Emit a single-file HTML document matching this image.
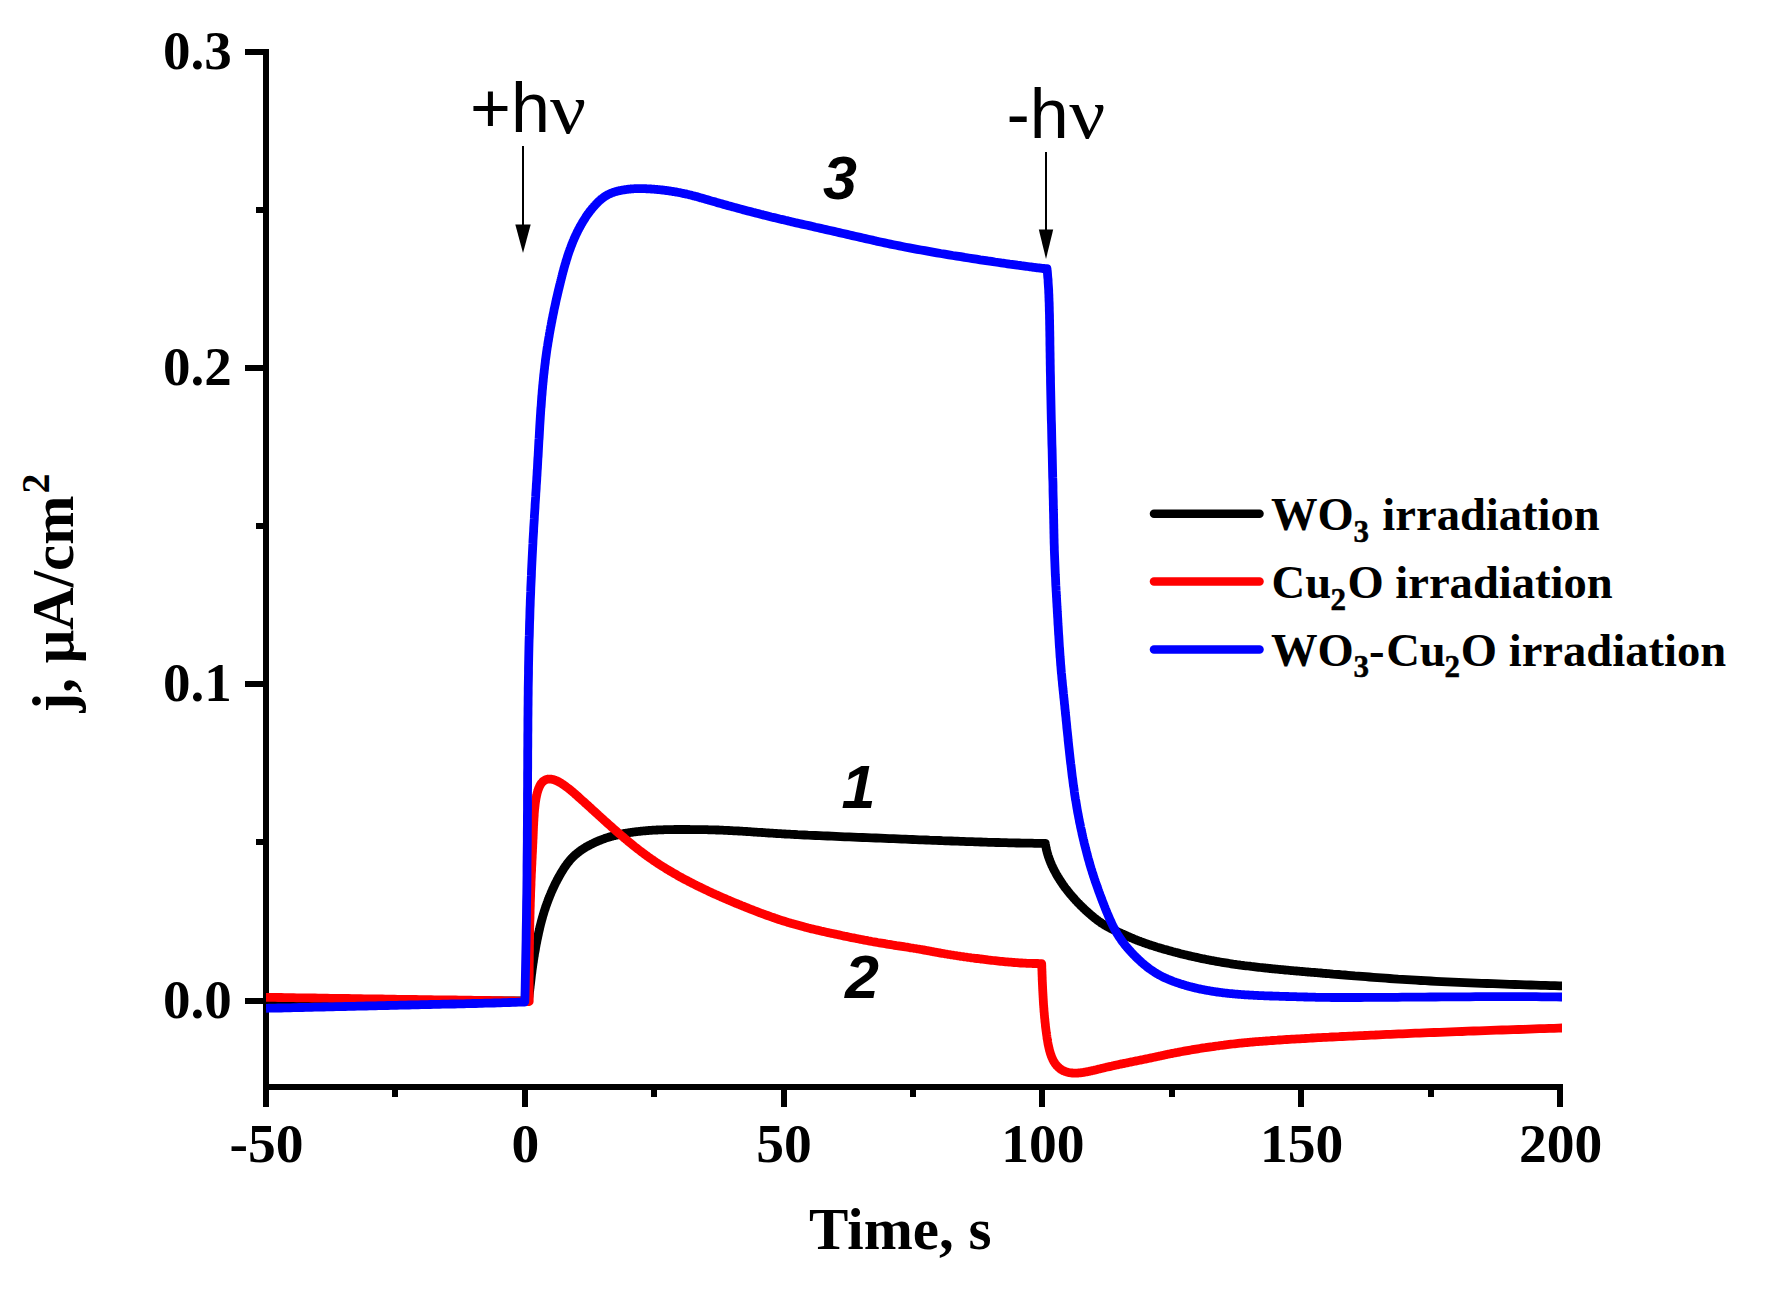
<!DOCTYPE html>
<html lang="en"><head><meta charset="utf-8"><title>Photocurrent transients</title>
<style>html,body{margin:0;padding:0;background:#fff}body{width:1769px;height:1295px;overflow:hidden}svg{display:block}</style>
</head><body>
<svg width="1769" height="1295" viewBox="0 0 1769 1295">
<rect width="1769" height="1295" fill="#fff"/>
<g stroke="#000" stroke-width="6" fill="none" shape-rendering="crispEdges">
<line x1="266" y1="49" x2="266" y2="1107"/>
<line x1="263" y1="1087" x2="1563" y2="1087"/>
<line x1="245" y1="1001.0" x2="266" y2="1001.0"/>
<line x1="245" y1="684.0" x2="266" y2="684.0"/>
<line x1="245" y1="368.0" x2="266" y2="368.0"/>
<line x1="245" y1="52.0" x2="266" y2="52.0"/>
<line x1="256" y1="842.0" x2="266" y2="842.0"/>
<line x1="256" y1="526.0" x2="266" y2="526.0"/>
<line x1="256" y1="210.0" x2="266" y2="210.0"/>
<line x1="525.0" y1="1087" x2="525.0" y2="1107"/>
<line x1="784.0" y1="1087" x2="784.0" y2="1107"/>
<line x1="1042.0" y1="1087" x2="1042.0" y2="1107"/>
<line x1="1301.0" y1="1087" x2="1301.0" y2="1107"/>
<line x1="1560.0" y1="1087" x2="1560.0" y2="1107"/>
<line x1="395.0" y1="1087" x2="395.0" y2="1097"/>
<line x1="654.0" y1="1087" x2="654.0" y2="1097"/>
<line x1="913.0" y1="1087" x2="913.0" y2="1097"/>
<line x1="1172.0" y1="1087" x2="1172.0" y2="1097"/>
<line x1="1431.0" y1="1087" x2="1431.0" y2="1097"/>
</g>
<defs><clipPath id="cp"><rect x="266" y="0" width="1296" height="1084"/></clipPath></defs>
<g clip-path="url(#cp)" fill="none" stroke-width="8.8" stroke-linejoin="round" stroke-linecap="butt">
<path stroke="#000" d="M266.0 1001.5L269.0 1001.5L272.1 1001.5L275.1 1001.5L278.2 1001.5L281.2 1001.4L284.3 1001.4L287.3 1001.4L290.4 1001.4L293.4 1001.4L296.5 1001.4L299.5 1001.4L302.6 1001.4L305.6 1001.4L308.7 1001.3L311.7 1001.3L314.7 1001.3L317.8 1001.3L320.8 1001.3L323.9 1001.3L326.9 1001.3L330.0 1001.3L333.0 1001.3L336.1 1001.3L339.1 1001.3L342.2 1001.2L345.2 1001.2L348.3 1001.2L351.3 1001.2L354.3 1001.2L357.4 1001.2L360.4 1001.2L363.5 1001.2L366.5 1001.2L369.6 1001.2L372.6 1001.2L375.7 1001.2L378.7 1001.2L381.8 1001.2L384.8 1001.1L387.9 1001.1L390.9 1001.1L394.0 1001.1L397.0 1001.1L400.0 1001.1L403.1 1001.1L406.1 1001.1L409.2 1001.1L412.2 1001.1L415.3 1001.1L418.3 1001.1L421.4 1001.1L424.4 1001.1L427.5 1001.1L430.5 1001.1L433.6 1001.1L436.6 1001.1L439.7 1001.1L442.7 1001.1L445.7 1001.0L448.8 1001.0L451.8 1001.0L454.9 1001.0L457.9 1001.0L461.0 1001.0L464.0 1001.0L467.1 1001.0L470.1 1001.0L473.2 1001.0L476.2 1001.0L479.3 1001.0L482.3 1001.0L485.3 1001.0L488.4 1001.0L491.4 1001.0L494.5 1001.0L497.5 1001.0L500.6 1001.0L503.6 1001.0L506.7 1001.0L509.7 1001.0L512.8 1001.0L515.8 1001.0L518.9 1001.0L521.9 1001.0L525.0 1001.0L528.0 1001.0L528.3 1001.0L528.4 1000.4L528.5 999.8L528.6 999.2L528.7 998.6L528.7 998.0L528.8 997.4L528.9 996.8L529.0 996.2L529.1 995.6L529.1 994.9L529.2 994.3L529.3 993.7L529.4 993.1L529.4 992.5L529.5 991.8L529.6 991.2L529.7 990.5L529.8 989.9L529.8 989.3L529.9 988.6L530.0 988.0L530.1 987.3L530.1 986.6L530.2 986.0L530.3 985.3L530.4 984.5L530.5 983.7L530.6 982.8L530.7 982.0L530.8 981.1L530.9 980.2L531.0 979.3L531.1 978.4L531.2 977.5L531.3 976.6L531.4 975.7L531.5 974.7L531.6 973.8L531.8 972.8L531.9 971.8L532.0 970.9L532.1 969.9L532.3 968.8L532.4 967.8L532.6 966.8L532.7 965.7L532.9 964.7L533.0 963.6L533.2 962.5L533.4 961.4L533.5 960.1L533.8 958.6L534.0 957.1L534.3 955.6L534.5 954.0L534.8 952.5L535.1 950.9L535.4 949.3L535.6 947.7L535.9 946.1L536.2 944.4L536.6 942.8L536.9 941.1L537.2 939.5L537.6 937.8L537.9 936.2L538.3 934.5L538.6 932.9L539.0 931.3L539.4 929.6L539.7 928.0L540.1 926.4L540.5 924.8L540.9 923.2L541.3 921.6L541.7 920.1L542.1 918.7L542.5 917.3L542.9 915.9L543.3 914.5L543.7 913.2L544.1 911.8L544.5 910.5L545.0 909.2L545.4 907.9L545.8 906.7L546.2 905.4L546.7 904.2L547.1 902.9L547.6 901.7L548.0 900.5L548.5 899.3L548.9 898.2L549.4 897.0L549.8 895.9L550.3 894.7L550.8 893.6L551.2 892.5L551.7 891.4L552.2 890.4L552.6 889.3L553.0 888.5L553.4 887.7L553.7 887.0L554.1 886.2L554.4 885.5L554.8 884.8L555.1 884.0L555.5 883.3L555.8 882.6L556.2 881.9L556.6 881.2L556.9 880.5L557.3 879.8L557.6 879.2L558.0 878.5L558.4 877.8L558.7 877.2L559.1 876.5L559.4 875.9L559.8 875.2L560.2 874.6L560.5 874.0L560.9 873.3L561.2 872.7L561.6 872.1L562.0 871.6L562.3 871.0L562.6 870.5L563.0 869.9L563.3 869.4L563.6 868.8L564.0 868.3L564.3 867.8L564.7 867.3L565.0 866.8L565.4 866.2L565.7 865.7L566.1 865.2L566.4 864.8L566.8 864.3L567.1 863.8L567.5 863.3L567.9 862.8L568.2 862.3L568.6 861.9L569.0 861.4L569.3 861.0L569.7 860.5L570.1 860.0L570.5 859.6L570.9 859.1L571.3 858.7L571.7 858.3L572.1 857.8L572.5 857.4L573.0 857.0L573.4 856.6L573.8 856.1L574.3 855.7L574.7 855.3L575.2 854.9L575.6 854.5L576.1 854.1L576.6 853.7L577.1 853.3L577.6 852.9L578.1 852.5L578.6 852.1L579.1 851.7L579.6 851.3L580.1 850.9L580.7 850.5L581.2 850.1L581.8 849.7L582.4 849.4L583.0 849.0L583.7 848.5L584.5 848.0L585.2 847.6L586.0 847.1L586.8 846.6L587.6 846.2L588.5 845.7L589.3 845.3L590.2 844.8L591.0 844.4L591.9 843.9L592.8 843.5L593.6 843.1L594.5 842.7L595.4 842.2L596.3 841.8L597.3 841.4L598.2 841.0L599.1 840.7L600.0 840.3L601.0 839.9L601.9 839.6L602.8 839.2L603.8 838.9L604.7 838.5L605.6 838.2L606.5 837.9L607.4 837.6L608.3 837.3L609.2 837.1L610.2 836.8L611.1 836.5L612.0 836.3L612.9 836.0L613.8 835.8L614.7 835.6L615.6 835.3L616.5 835.1L617.4 834.9L618.3 834.7L619.2 834.5L620.1 834.3L621.1 834.1L622.0 834.0L622.9 833.8L623.8 833.6L624.7 833.4L625.6 833.3L626.5 833.1L627.4 833.0L628.3 832.8L629.2 832.7L630.1 832.5L631.0 832.4L631.9 832.3L632.8 832.2L633.7 832.0L634.6 831.9L635.5 831.8L636.4 831.7L637.3 831.6L638.2 831.5L639.1 831.4L640.0 831.3L640.9 831.2L641.8 831.1L642.7 831.0L643.6 830.9L644.5 830.8L645.4 830.8L646.3 830.7L647.2 830.6L648.1 830.5L649.0 830.5L649.8 830.4L650.7 830.4L651.6 830.3L652.5 830.2L653.4 830.2L654.3 830.1L655.2 830.1L656.1 830.0L657.0 830.0L657.9 830.0L658.8 829.9L659.7 829.9L660.6 829.8L661.4 829.8L662.3 829.8L663.2 829.8L664.1 829.7L665.0 829.7L665.9 829.7L666.8 829.7L667.7 829.6L668.6 829.6L669.4 829.6L670.3 829.6L671.2 829.6L672.1 829.6L673.0 829.6L673.9 829.5L674.8 829.5L675.7 829.5L676.5 829.5L677.4 829.5L678.3 829.5L679.2 829.5L680.1 829.5L680.9 829.5L681.8 829.5L682.7 829.5L683.6 829.5L684.5 829.5L685.4 829.5L686.2 829.5L687.1 829.5L688.0 829.5L688.9 829.5L689.8 829.5L690.6 829.6L691.5 829.6L692.4 829.6L693.3 829.6L694.1 829.6L695.0 829.6L695.9 829.6L696.8 829.6L697.6 829.6L698.5 829.6L699.4 829.6L700.3 829.6L701.2 829.6L702.1 829.7L703.0 829.7L703.8 829.7L704.8 829.7L705.7 829.7L706.6 829.7L707.5 829.7L708.4 829.8L709.4 829.8L710.3 829.8L711.3 829.8L712.3 829.8L713.3 829.9L714.3 829.9L715.3 829.9L716.3 830.0L717.3 830.0L718.4 830.0L719.6 830.1L721.1 830.1L722.6 830.2L724.1 830.3L725.6 830.3L727.2 830.4L728.8 830.5L730.4 830.6L732.0 830.7L733.6 830.8L735.3 830.8L736.9 830.9L738.6 831.0L740.2 831.1L741.9 831.2L743.5 831.3L745.1 831.4L746.8 831.5L748.4 831.6L750.0 831.7L751.6 831.8L753.2 832.0L754.8 832.1L756.4 832.2L757.9 832.3L759.4 832.4L760.8 832.4L762.1 832.5L763.4 832.6L764.7 832.7L766.0 832.8L767.3 832.9L768.6 833.0L769.9 833.1L771.2 833.1L772.5 833.2L773.9 833.3L775.2 833.4L776.5 833.5L777.9 833.6L779.3 833.6L780.7 833.7L782.1 833.8L783.6 833.9L785.0 834.0L786.6 834.1L788.1 834.2L789.7 834.2L791.4 834.3L793.1 834.4L794.8 834.5L797.7 834.7L801.0 834.8L804.5 835.0L808.1 835.2L811.8 835.3L815.6 835.5L819.5 835.7L823.5 835.9L827.6 836.0L831.8 836.2L836.1 836.4L840.4 836.6L844.8 836.8L849.2 836.9L853.6 837.1L858.1 837.3L862.6 837.5L867.1 837.7L871.6 837.9L876.0 838.0L880.5 838.2L884.9 838.4L889.3 838.6L893.6 838.7L897.9 838.9L901.8 839.1L905.5 839.2L909.0 839.4L912.6 839.5L916.0 839.6L919.5 839.8L922.8 839.9L926.2 840.0L929.5 840.2L932.7 840.3L936.0 840.4L939.1 840.5L942.3 840.7L945.4 840.8L948.5 840.9L951.6 841.0L954.6 841.1L957.6 841.2L960.6 841.3L963.5 841.4L966.5 841.6L969.4 841.7L972.3 841.7L975.1 841.8L978.0 841.9L980.8 842.0L983.4 842.1L985.9 842.2L988.5 842.3L991.0 842.3L993.6 842.4L996.1 842.5L998.6 842.5L1001.2 842.6L1003.7 842.7L1006.2 842.7L1008.8 842.8L1011.3 842.8L1013.9 842.9L1016.4 843.0L1019.0 843.0L1021.6 843.1L1024.1 843.1L1026.7 843.1L1029.3 843.2L1032.0 843.2L1034.6 843.3L1037.2 843.3L1039.9 843.3L1042.6 843.4L1045.3 843.4L1045.3 843.4L1045.4 844.0L1045.5 844.5L1045.6 845.1L1045.6 845.6L1045.7 846.2L1045.9 846.8L1046.0 847.3L1046.1 847.9L1046.2 848.4L1046.3 849.0L1046.4 849.6L1046.6 850.1L1046.7 850.7L1046.9 851.2L1047.0 851.8L1047.1 852.4L1047.3 852.9L1047.5 853.5L1047.6 854.0L1047.8 854.6L1048.0 855.2L1048.1 855.7L1048.3 856.3L1048.5 856.8L1048.7 857.4L1048.9 857.9L1049.1 858.5L1049.3 859.1L1049.5 859.6L1049.7 860.2L1049.9 860.7L1050.1 861.3L1050.4 861.9L1050.6 862.4L1050.8 863.0L1051.1 863.5L1051.3 864.1L1051.5 864.6L1051.8 865.2L1052.0 865.8L1052.3 866.3L1052.6 866.9L1052.8 867.4L1053.1 868.0L1053.4 868.5L1053.6 869.1L1053.9 869.6L1054.2 870.2L1054.5 870.7L1054.8 871.3L1055.1 871.8L1055.4 872.4L1055.7 873.0L1056.0 873.5L1056.3 874.1L1056.6 874.7L1056.9 875.2L1057.3 875.8L1057.6 876.4L1057.9 876.9L1058.3 877.5L1058.6 878.0L1059.0 878.6L1059.3 879.1L1059.7 879.7L1060.0 880.3L1060.4 880.8L1060.8 881.4L1061.1 881.9L1061.5 882.5L1061.9 883.0L1062.2 883.6L1062.6 884.1L1063.0 884.7L1063.4 885.2L1063.8 885.8L1064.2 886.4L1064.6 887.0L1065.1 887.6L1065.5 888.2L1066.0 888.8L1066.4 889.3L1066.9 889.9L1067.4 890.5L1067.8 891.1L1068.3 891.7L1068.8 892.3L1069.2 892.9L1069.7 893.5L1070.2 894.1L1070.7 894.6L1071.2 895.2L1071.7 895.8L1072.2 896.4L1072.7 896.9L1073.2 897.5L1073.7 898.1L1074.2 898.7L1074.7 899.2L1075.2 899.8L1075.7 900.3L1076.2 900.9L1076.8 901.5L1077.3 902.0L1077.8 902.6L1078.3 903.1L1078.9 903.7L1079.4 904.2L1079.9 904.8L1080.5 905.3L1081.0 905.9L1081.6 906.4L1082.1 906.9L1082.7 907.5L1083.2 908.0L1083.8 908.5L1084.3 909.0L1084.9 909.6L1085.4 910.1L1086.0 910.6L1086.6 911.1L1087.1 911.6L1087.7 912.2L1088.3 912.7L1088.8 913.2L1089.4 913.7L1090.0 914.2L1090.5 914.6L1091.1 915.1L1091.6 915.6L1092.2 916.0L1092.7 916.5L1093.3 916.9L1093.8 917.4L1094.4 917.8L1094.9 918.3L1095.5 918.7L1096.0 919.2L1096.6 919.6L1097.2 920.0L1097.8 920.5L1098.3 920.9L1098.9 921.3L1099.5 921.7L1100.1 922.1L1100.7 922.5L1101.3 923.0L1101.9 923.4L1102.6 923.8L1103.2 924.2L1103.8 924.5L1104.4 924.9L1105.1 925.4L1105.8 925.8L1106.6 926.2L1107.3 926.6L1108.0 927.0L1108.7 927.4L1109.5 927.8L1110.2 928.2L1111.0 928.6L1111.7 928.9L1112.4 929.3L1113.2 929.7L1113.9 930.0L1114.7 930.4L1115.4 930.7L1116.1 931.1L1116.9 931.4L1117.6 931.8L1118.3 932.1L1119.1 932.4L1119.8 932.8L1120.5 933.1L1121.2 933.4L1121.9 933.7L1122.6 934.0L1123.2 934.3L1123.8 934.5L1124.3 934.8L1124.9 935.0L1125.4 935.3L1126.0 935.5L1126.5 935.8L1127.0 936.0L1127.6 936.2L1128.1 936.5L1128.6 936.7L1129.1 936.9L1129.6 937.1L1130.2 937.4L1130.7 937.6L1131.2 937.8L1131.7 938.0L1132.2 938.2L1132.7 938.4L1133.2 938.6L1133.7 938.8L1134.2 939.1L1134.7 939.3L1135.2 939.5L1135.7 939.7L1136.2 939.9L1136.7 940.1L1137.2 940.3L1137.7 940.5L1138.2 940.7L1138.7 940.9L1139.2 941.0L1139.7 941.2L1140.2 941.4L1140.7 941.6L1141.3 941.8L1141.8 942.0L1142.3 942.2L1142.9 942.4L1143.4 942.6L1143.9 942.8L1144.5 943.0L1145.0 943.2L1145.6 943.4L1146.2 943.6L1146.7 943.8L1147.3 944.0L1147.9 944.2L1148.5 944.4L1149.1 944.6L1149.7 944.8L1150.5 945.1L1151.4 945.3L1152.3 945.6L1153.2 945.9L1154.1 946.2L1155.0 946.5L1156.0 946.8L1156.9 947.1L1157.9 947.4L1158.9 947.7L1159.9 948.0L1160.9 948.3L1161.9 948.6L1163.0 948.9L1164.0 949.2L1165.1 949.5L1166.2 949.8L1167.3 950.1L1168.4 950.4L1169.5 950.7L1170.6 951.0L1171.7 951.3L1172.9 951.7L1174.1 952.0L1175.2 952.3L1176.6 952.6L1178.2 953.0L1179.8 953.5L1181.4 953.9L1183.0 954.3L1184.7 954.7L1186.3 955.1L1188.0 955.5L1189.7 955.9L1191.4 956.3L1193.1 956.7L1194.9 957.0L1196.6 957.4L1198.3 957.8L1200.1 958.2L1201.9 958.6L1203.7 958.9L1205.5 959.3L1207.3 959.7L1209.1 960.0L1210.9 960.4L1212.7 960.7L1214.6 961.0L1216.4 961.4L1218.3 961.7L1220.1 962.0L1222.0 962.3L1223.8 962.6L1225.7 962.9L1227.5 963.2L1229.4 963.5L1231.3 963.8L1233.1 964.1L1235.0 964.3L1236.8 964.6L1238.7 964.8L1240.5 965.1L1242.4 965.3L1244.2 965.6L1246.1 965.8L1247.9 966.0L1249.7 966.2L1251.5 966.5L1253.3 966.7L1255.1 966.9L1256.9 967.1L1258.7 967.3L1260.4 967.5L1262.2 967.7L1263.9 967.9L1265.6 968.0L1267.1 968.2L1268.6 968.4L1270.0 968.5L1271.5 968.6L1272.9 968.8L1274.3 968.9L1275.7 969.1L1277.1 969.2L1278.5 969.3L1279.8 969.5L1281.2 969.6L1282.5 969.7L1283.9 969.9L1285.2 970.0L1286.5 970.1L1287.8 970.2L1289.1 970.3L1290.4 970.5L1291.6 970.6L1292.9 970.7L1294.2 970.8L1295.4 970.9L1296.6 971.0L1297.8 971.1L1299.0 971.2L1300.2 971.3L1301.3 971.4L1302.4 971.5L1303.5 971.6L1304.6 971.7L1305.7 971.8L1306.8 971.9L1307.9 972.0L1309.0 972.1L1310.1 972.2L1311.3 972.3L1312.4 972.4L1313.5 972.4L1314.7 972.5L1315.9 972.6L1317.1 972.7L1318.3 972.8L1319.5 972.9L1320.7 973.0L1322.0 973.1L1323.3 973.3L1324.6 973.4L1326.0 973.5L1327.4 973.6L1328.8 973.7L1330.3 973.8L1333.0 974.1L1335.8 974.3L1338.8 974.5L1341.8 974.8L1344.9 975.0L1348.1 975.3L1351.5 975.6L1354.9 975.9L1358.4 976.1L1362.1 976.4L1365.8 976.7L1369.5 977.0L1373.4 977.3L1377.4 977.6L1381.4 977.9L1385.5 978.2L1389.6 978.5L1393.9 978.8L1398.2 979.1L1402.5 979.3L1407.0 979.6L1411.4 979.9L1416.0 980.2L1420.6 980.5L1425.2 980.7L1430.5 981.0L1436.0 981.3L1441.7 981.6L1447.4 981.9L1453.1 982.1L1458.8 982.4L1464.5 982.6L1470.2 982.9L1476.0 983.1L1481.7 983.3L1487.3 983.5L1493.0 983.7L1498.6 983.9L1504.2 984.1L1509.6 984.3L1515.1 984.5L1520.4 984.7L1525.7 984.8L1530.8 985.0L1535.9 985.1L1540.8 985.3L1545.6 985.4L1550.3 985.6L1554.9 985.7L1559.3 985.8L1562.8 985.9L1565.0 986.0L1567.1 986.1L1569.2 986.1L1571.3 986.2L1573.2 986.2L1575.2 986.3L1577.1 986.3L1578.9 986.4L1580.6 986.4L1582.4 986.5L1584.0 986.6L1585.6 986.6L1587.1 986.7L1588.6 986.7L1590.0 986.8L1591.3 986.8L1592.5 986.8L1593.7 986.9L1594.9 986.9L1595.9 987.0L1596.9 987.0L1597.8 987.1L1598.6 987.1L1599.3 987.2L1600.0 987.2"/>
<path stroke="#f00" d="M266.0 997.3L269.1 997.3L272.1 997.4L275.2 997.4L278.2 997.5L281.3 997.5L284.3 997.6L287.4 997.6L290.5 997.7L293.5 997.7L296.6 997.8L299.6 997.8L302.7 997.8L305.8 997.9L308.8 997.9L311.9 998.0L314.9 998.0L318.0 998.1L321.0 998.1L324.1 998.2L327.2 998.2L330.2 998.3L333.3 998.3L336.3 998.4L339.4 998.4L342.5 998.4L345.5 998.5L348.6 998.5L351.6 998.6L354.7 998.6L357.7 998.7L360.8 998.7L363.9 998.8L366.9 998.8L370.0 998.9L373.0 998.9L376.1 998.9L379.2 999.0L382.2 999.0L385.3 999.1L388.3 999.1L391.4 999.2L394.4 999.2L397.5 999.3L400.6 999.3L403.6 999.4L406.7 999.4L409.7 999.4L412.8 999.5L415.9 999.5L418.9 999.6L422.0 999.6L425.0 999.6L428.1 999.7L431.1 999.7L434.2 999.8L437.3 999.8L440.3 999.8L443.4 999.9L446.4 999.9L449.5 999.9L452.6 1000.0L455.6 1000.0L458.7 1000.1L461.7 1000.1L464.8 1000.1L467.8 1000.2L470.9 1000.2L474.0 1000.3L477.0 1000.3L480.1 1000.4L483.1 1000.4L486.2 1000.5L489.3 1000.5L492.3 1000.6L495.4 1000.6L498.4 1000.7L501.5 1000.7L504.5 1000.8L507.6 1000.9L510.7 1000.9L513.7 1001.0L516.8 1001.1L519.8 1001.2L522.9 1001.3L525.9 1001.4L529.0 1001.5L529.2 1001.5L529.2 999.3L529.2 997.1L529.2 994.8L529.1 992.6L529.1 990.2L529.1 987.9L529.1 985.6L529.1 983.2L529.1 980.8L529.1 978.4L529.2 975.9L529.2 973.5L529.2 971.0L529.2 968.5L529.2 966.0L529.2 963.5L529.3 961.0L529.3 958.5L529.3 955.9L529.3 953.4L529.4 950.8L529.4 948.3L529.4 945.7L529.5 943.2L529.5 940.6L529.6 938.0L529.6 935.5L529.6 933.0L529.7 930.4L529.7 927.9L529.8 925.3L529.8 922.8L529.9 920.3L530.0 917.8L530.0 915.3L530.1 912.8L530.1 910.4L530.2 907.9L530.3 905.5L530.3 903.1L530.4 900.7L530.5 898.3L530.6 895.9L530.6 893.6L530.7 891.3L530.8 889.0L530.9 886.8L531.0 884.6L531.0 882.4L531.1 880.2L531.2 878.5L531.3 876.7L531.3 875.0L531.4 873.3L531.5 871.7L531.6 870.0L531.6 868.4L531.7 866.7L531.8 865.1L531.9 863.5L531.9 861.9L532.0 860.4L532.1 858.8L532.2 857.3L532.2 855.7L532.3 854.2L532.4 852.7L532.5 851.1L532.5 849.6L532.6 848.1L532.7 846.6L532.7 845.1L532.8 843.6L532.9 842.1L532.9 840.6L533.0 839.3L533.1 838.0L533.1 836.7L533.2 835.4L533.2 834.1L533.3 832.9L533.3 831.6L533.4 830.3L533.4 829.0L533.5 827.7L533.5 826.5L533.6 825.2L533.7 823.9L533.7 822.7L533.8 821.5L533.9 820.2L533.9 819.0L534.0 817.8L534.1 816.6L534.2 815.4L534.2 814.2L534.3 813.0L534.4 811.8L534.5 810.7L534.6 809.6L534.7 808.6L534.8 807.7L534.9 806.8L535.0 805.9L535.1 805.0L535.2 804.1L535.3 803.3L535.4 802.4L535.5 801.6L535.7 800.7L535.8 799.9L535.9 799.1L536.1 798.3L536.2 797.5L536.4 796.7L536.5 795.9L536.7 795.2L536.9 794.4L537.0 793.7L537.2 793.0L537.4 792.3L537.6 791.6L537.8 791.0L538.0 790.3L538.2 789.7L538.4 789.3L538.5 788.8L538.7 788.4L538.8 788.0L539.0 787.6L539.2 787.2L539.4 786.8L539.5 786.4L539.7 786.0L539.9 785.7L540.1 785.3L540.3 785.0L540.5 784.6L540.7 784.3L540.9 784.0L541.1 783.6L541.3 783.3L541.6 783.1L541.8 782.8L542.0 782.5L542.3 782.2L542.5 782.0L542.7 781.7L543.0 781.5L543.2 781.3L543.4 781.1L543.6 781.0L543.9 780.8L544.1 780.6L544.3 780.5L544.5 780.4L544.8 780.2L545.0 780.1L545.2 780.0L545.5 779.9L545.7 779.8L545.9 779.7L546.2 779.6L546.4 779.5L546.7 779.4L546.9 779.4L547.2 779.3L547.4 779.2L547.7 779.2L548.0 779.2L548.2 779.1L548.5 779.1L548.8 779.1L549.1 779.1L549.4 779.1L549.8 779.1L550.1 779.1L550.5 779.1L550.9 779.1L551.3 779.2L551.7 779.3L552.1 779.3L552.5 779.4L552.9 779.5L553.4 779.6L553.8 779.7L554.2 779.9L554.7 780.0L555.1 780.2L555.6 780.4L556.0 780.5L556.5 780.7L556.9 780.9L557.4 781.2L557.9 781.4L558.4 781.6L558.8 781.9L559.3 782.2L559.8 782.4L560.4 782.8L561.2 783.3L562.0 783.8L562.9 784.3L563.7 784.9L564.5 785.5L565.4 786.1L566.2 786.8L567.1 787.4L568.0 788.1L568.9 788.8L569.8 789.5L570.7 790.3L571.6 791.0L572.5 791.8L573.4 792.5L574.3 793.3L575.2 794.1L576.1 794.9L577.1 795.7L578.0 796.6L578.9 797.4L579.8 798.2L580.7 799.0L581.7 799.9L582.6 800.7L583.6 801.6L584.5 802.4L585.4 803.3L586.4 804.1L587.3 805.0L588.3 805.8L589.2 806.7L590.2 807.6L591.1 808.4L592.0 809.3L592.9 810.1L593.9 810.9L594.8 811.8L595.7 812.6L596.7 813.5L597.6 814.3L598.5 815.2L599.4 816.0L600.3 816.8L601.3 817.7L602.2 818.5L603.1 819.3L604.0 820.2L604.9 821.0L605.8 821.8L606.7 822.6L607.6 823.4L608.5 824.2L609.4 825.0L610.3 825.8L611.2 826.6L612.1 827.4L613.0 828.2L613.9 829.0L614.8 829.8L615.7 830.6L616.6 831.4L617.5 832.2L618.4 833.0L619.3 833.7L620.2 834.5L621.1 835.3L622.0 836.1L622.9 836.8L623.8 837.6L624.7 838.4L625.6 839.1L626.5 839.9L627.4 840.6L628.3 841.4L629.1 842.1L630.0 842.8L630.9 843.5L631.8 844.3L632.7 845.0L633.6 845.7L634.4 846.4L635.3 847.1L636.2 847.8L637.1 848.5L638.0 849.2L638.9 849.9L639.8 850.6L640.7 851.3L641.6 852.0L642.5 852.6L643.4 853.3L644.3 854.0L645.2 854.7L646.1 855.3L647.0 856.0L647.9 856.6L648.8 857.3L649.7 857.9L650.7 858.6L651.6 859.2L652.5 859.8L653.4 860.5L654.3 861.1L655.2 861.7L656.1 862.3L657.0 862.9L657.9 863.5L658.8 864.1L659.7 864.7L660.7 865.3L661.6 865.9L662.5 866.5L663.4 867.0L664.4 867.6L665.3 868.2L666.2 868.8L667.1 869.3L668.1 869.9L669.0 870.4L669.9 871.0L670.9 871.5L671.8 872.1L672.7 872.6L673.6 873.2L674.6 873.7L675.5 874.2L676.4 874.7L677.3 875.3L678.2 875.8L679.1 876.3L680.0 876.8L680.9 877.3L681.9 877.8L682.8 878.3L683.7 878.8L684.6 879.3L685.5 879.8L686.4 880.2L687.3 880.7L688.2 881.2L689.2 881.7L690.1 882.2L691.0 882.6L691.9 883.1L692.8 883.6L693.7 884.0L694.6 884.5L695.5 884.9L696.4 885.4L697.3 885.8L698.2 886.3L699.1 886.7L700.0 887.1L700.9 887.6L701.8 888.0L702.7 888.4L703.6 888.9L704.4 889.3L705.3 889.7L706.2 890.1L707.1 890.5L708.0 891.0L708.8 891.4L709.7 891.8L710.6 892.2L711.5 892.6L712.3 893.0L713.2 893.4L714.1 893.8L714.9 894.2L715.8 894.6L716.7 894.9L717.5 895.3L718.4 895.7L719.2 896.1L720.1 896.5L720.9 896.8L721.7 897.2L722.6 897.6L723.4 897.9L724.3 898.3L725.1 898.7L726.0 899.0L726.8 899.4L727.7 899.8L728.6 900.2L729.5 900.5L730.4 900.9L731.3 901.3L732.2 901.7L733.1 902.1L734.1 902.5L735.0 902.9L736.0 903.3L737.0 903.7L738.0 904.1L739.0 904.5L740.0 904.9L741.4 905.5L742.9 906.1L744.5 906.7L746.1 907.4L747.8 908.0L749.4 908.7L751.1 909.4L752.9 910.0L754.6 910.7L756.4 911.4L758.2 912.1L760.0 912.8L761.8 913.5L763.7 914.1L765.5 914.8L767.4 915.5L769.3 916.2L771.2 916.9L773.1 917.5L775.0 918.2L776.9 918.8L778.8 919.5L780.7 920.1L782.6 920.7L784.5 921.3L786.4 921.9L788.2 922.5L790.1 923.0L791.9 923.6L793.7 924.1L795.6 924.6L797.4 925.1L799.2 925.6L801.0 926.1L802.9 926.6L804.7 927.1L806.5 927.5L808.3 928.0L810.1 928.4L811.9 928.9L813.7 929.3L815.5 929.7L817.3 930.1L819.1 930.5L820.9 931.0L822.7 931.4L824.5 931.8L826.3 932.2L828.1 932.6L829.9 933.0L831.7 933.4L833.5 933.7L835.3 934.1L837.1 934.5L838.9 934.9L840.7 935.3L842.5 935.7L844.3 936.1L846.1 936.4L847.9 936.8L849.7 937.2L851.5 937.6L853.4 937.9L855.2 938.3L857.0 938.7L858.9 939.0L860.7 939.4L862.6 939.7L864.4 940.1L866.3 940.4L868.2 940.8L870.0 941.1L871.9 941.5L873.8 941.8L875.7 942.1L877.6 942.5L879.5 942.8L881.4 943.1L883.3 943.4L885.2 943.7L887.1 944.1L889.0 944.4L890.9 944.7L892.8 945.0L894.6 945.3L896.5 945.6L898.3 945.8L900.1 946.1L901.9 946.4L903.7 946.7L905.5 947.0L907.2 947.2L908.9 947.5L910.6 947.8L912.2 948.0L913.8 948.3L915.4 948.5L916.9 948.8L918.4 949.0L919.8 949.3L920.8 949.5L921.7 949.6L922.6 949.8L923.4 949.9L924.3 950.1L925.1 950.2L925.9 950.4L926.8 950.5L927.6 950.7L928.4 950.8L929.2 951.0L930.0 951.1L930.8 951.3L931.5 951.4L932.3 951.6L933.1 951.7L933.9 951.9L934.7 952.0L935.6 952.2L936.4 952.3L937.2 952.5L938.0 952.6L938.9 952.8L939.8 952.9L940.7 953.1L942.0 953.3L943.3 953.5L944.8 953.8L946.2 954.0L947.7 954.3L949.3 954.5L950.8 954.8L952.4 955.0L954.0 955.3L955.7 955.5L957.3 955.8L959.0 956.0L960.7 956.3L962.5 956.5L964.2 956.8L966.0 957.0L967.8 957.3L969.6 957.5L971.4 957.8L973.2 958.0L975.0 958.3L976.9 958.5L978.7 958.7L980.5 959.0L982.4 959.2L984.2 959.4L986.0 959.6L987.9 959.9L989.7 960.1L991.5 960.3L993.3 960.5L995.1 960.7L996.9 960.9L998.7 961.1L1000.5 961.3L1002.2 961.4L1004.0 961.6L1005.7 961.8L1007.4 961.9L1009.1 962.1L1010.8 962.2L1012.4 962.4L1014.0 962.5L1015.7 962.6L1017.2 962.7L1018.8 962.9L1020.3 963.0L1021.8 963.0L1023.3 963.1L1024.7 963.2L1025.6 963.2L1026.5 963.3L1027.3 963.3L1028.2 963.3L1029.0 963.4L1029.8 963.4L1030.6 963.4L1031.4 963.4L1032.1 963.5L1032.9 963.5L1033.6 963.5L1034.3 963.5L1035.0 963.5L1035.7 963.5L1036.3 963.5L1037.0 963.5L1037.6 963.5L1038.2 963.5L1038.7 963.6L1039.3 963.6L1039.8 963.6L1040.3 963.6L1040.8 963.6L1041.3 963.6L1041.7 963.6L1041.7 963.6L1041.7 964.8L1041.8 965.9L1041.8 967.1L1041.8 968.2L1041.9 969.4L1041.9 970.5L1042.0 971.7L1042.0 972.8L1042.0 973.9L1042.1 975.0L1042.1 976.2L1042.2 977.3L1042.2 978.4L1042.2 979.5L1042.3 980.6L1042.3 981.6L1042.4 982.7L1042.4 983.8L1042.5 984.9L1042.5 985.9L1042.6 987.0L1042.6 988.1L1042.7 989.1L1042.7 990.2L1042.8 991.2L1042.8 992.1L1042.9 993.0L1042.9 993.9L1043.0 994.8L1043.0 995.7L1043.1 996.6L1043.1 997.5L1043.2 998.3L1043.2 999.2L1043.3 1000.1L1043.3 1000.9L1043.4 1001.8L1043.4 1002.7L1043.5 1003.5L1043.5 1004.4L1043.6 1005.2L1043.7 1006.1L1043.7 1006.9L1043.8 1007.7L1043.9 1008.6L1043.9 1009.4L1044.0 1010.2L1044.0 1011.1L1044.1 1011.9L1044.2 1012.7L1044.3 1013.5L1044.3 1014.4L1044.4 1015.2L1044.5 1016.0L1044.5 1016.8L1044.6 1017.6L1044.7 1018.4L1044.8 1019.2L1044.9 1020.0L1044.9 1020.8L1045.0 1021.6L1045.1 1022.4L1045.2 1023.2L1045.3 1024.0L1045.4 1024.8L1045.4 1025.6L1045.5 1026.3L1045.6 1027.1L1045.7 1027.9L1045.8 1028.7L1045.9 1029.4L1046.0 1030.2L1046.1 1031.0L1046.2 1031.8L1046.3 1032.5L1046.4 1033.3L1046.5 1033.9L1046.6 1034.6L1046.7 1035.2L1046.8 1035.9L1046.9 1036.6L1047.0 1037.2L1047.0 1037.9L1047.1 1038.5L1047.3 1039.2L1047.4 1039.8L1047.5 1040.5L1047.6 1041.1L1047.7 1041.7L1047.8 1042.4L1047.9 1043.0L1048.0 1043.6L1048.1 1044.2L1048.3 1044.9L1048.4 1045.5L1048.5 1046.1L1048.7 1046.7L1048.8 1047.3L1048.9 1047.9L1049.1 1048.5L1049.2 1049.1L1049.3 1049.5L1049.4 1050.0L1049.6 1050.5L1049.7 1051.0L1049.8 1051.5L1050.0 1051.9L1050.1 1052.4L1050.2 1052.9L1050.4 1053.3L1050.5 1053.8L1050.7 1054.2L1050.8 1054.7L1051.0 1055.1L1051.1 1055.5L1051.3 1056.0L1051.4 1056.4L1051.6 1056.8L1051.8 1057.2L1051.9 1057.6L1052.1 1058.0L1052.3 1058.4L1052.5 1058.8L1052.7 1059.2L1052.8 1059.6L1053.0 1060.0L1053.2 1060.4L1053.4 1060.7L1053.6 1061.1L1053.8 1061.5L1054.0 1061.8L1054.3 1062.2L1054.5 1062.5L1054.7 1062.9L1054.9 1063.2L1055.1 1063.5L1055.4 1063.8L1055.6 1064.2L1055.8 1064.5L1056.1 1064.8L1056.3 1065.1L1056.6 1065.4L1056.8 1065.7L1057.1 1065.9L1057.3 1066.2L1057.6 1066.5L1057.9 1066.8L1058.1 1067.0L1058.4 1067.3L1058.7 1067.5L1059.0 1067.8L1059.2 1068.0L1059.4 1068.2L1059.7 1068.4L1059.9 1068.6L1060.2 1068.7L1060.4 1068.9L1060.7 1069.1L1060.9 1069.3L1061.2 1069.4L1061.4 1069.6L1061.7 1069.8L1061.9 1069.9L1062.2 1070.1L1062.5 1070.2L1062.7 1070.4L1063.0 1070.5L1063.3 1070.6L1063.5 1070.8L1063.8 1070.9L1064.1 1071.0L1064.4 1071.2L1064.7 1071.3L1064.9 1071.4L1065.2 1071.5L1065.5 1071.6L1065.8 1071.7L1066.1 1071.8L1066.4 1071.9L1066.8 1072.0L1067.1 1072.1L1067.4 1072.2L1067.7 1072.3L1068.0 1072.4L1068.4 1072.4L1068.7 1072.5L1069.0 1072.6L1069.4 1072.6L1069.7 1072.7L1070.1 1072.8L1070.4 1072.8L1070.7 1072.9L1071.1 1072.9L1071.4 1072.9L1071.8 1073.0L1072.2 1073.0L1072.5 1073.0L1072.9 1073.1L1073.3 1073.1L1073.6 1073.1L1074.0 1073.1L1074.4 1073.1L1074.9 1073.1L1075.4 1073.1L1075.9 1073.1L1076.4 1073.1L1076.9 1073.1L1077.4 1073.1L1078.0 1073.0L1078.5 1073.0L1079.0 1072.9L1079.5 1072.9L1080.1 1072.8L1080.6 1072.8L1081.2 1072.7L1081.7 1072.6L1082.3 1072.6L1082.8 1072.5L1083.4 1072.4L1083.9 1072.3L1084.5 1072.2L1085.1 1072.1L1085.7 1072.0L1086.2 1071.9L1086.8 1071.8L1087.4 1071.7L1088.0 1071.6L1088.8 1071.4L1089.5 1071.3L1090.2 1071.1L1091.0 1070.9L1091.8 1070.8L1092.5 1070.6L1093.3 1070.4L1094.1 1070.2L1094.9 1070.1L1095.6 1069.9L1096.4 1069.7L1097.2 1069.5L1098.0 1069.3L1098.8 1069.1L1099.6 1068.9L1100.4 1068.7L1101.2 1068.5L1102.0 1068.3L1102.9 1068.1L1103.7 1067.9L1104.5 1067.7L1105.3 1067.5L1106.2 1067.3L1107.0 1067.1L1107.8 1066.9L1108.7 1066.8L1109.5 1066.6L1110.4 1066.4L1111.2 1066.2L1112.1 1066.0L1112.9 1065.8L1113.8 1065.6L1114.6 1065.4L1115.5 1065.2L1116.3 1065.0L1117.2 1064.9L1118.1 1064.7L1118.9 1064.5L1119.8 1064.3L1120.7 1064.1L1121.6 1063.9L1122.4 1063.8L1123.3 1063.6L1124.2 1063.4L1125.1 1063.2L1126.0 1063.0L1126.9 1062.9L1127.7 1062.7L1128.6 1062.5L1129.5 1062.3L1130.5 1062.1L1131.5 1061.9L1132.5 1061.7L1133.5 1061.5L1134.4 1061.3L1135.4 1061.1L1136.4 1060.9L1137.4 1060.7L1138.4 1060.5L1139.4 1060.3L1140.4 1060.1L1141.4 1059.9L1142.4 1059.7L1143.4 1059.5L1144.3 1059.3L1145.3 1059.1L1146.3 1058.9L1147.2 1058.7L1148.2 1058.5L1149.2 1058.3L1150.1 1058.1L1151.1 1057.9L1152.0 1057.7L1152.9 1057.5L1153.9 1057.3L1154.8 1057.1L1155.6 1056.9L1156.4 1056.8L1157.2 1056.6L1158.0 1056.4L1158.8 1056.2L1159.6 1056.1L1160.4 1055.9L1161.2 1055.7L1162.0 1055.5L1162.8 1055.4L1163.6 1055.2L1164.4 1055.0L1165.3 1054.8L1166.1 1054.7L1166.9 1054.5L1167.8 1054.3L1168.7 1054.1L1169.5 1054.0L1170.4 1053.8L1171.3 1053.6L1172.2 1053.4L1173.1 1053.2L1174.1 1053.0L1175.0 1052.9L1176.1 1052.6L1177.6 1052.4L1179.2 1052.1L1180.7 1051.8L1182.3 1051.5L1184.0 1051.2L1185.6 1050.9L1187.3 1050.6L1189.0 1050.3L1190.8 1050.0L1192.5 1049.7L1194.3 1049.4L1196.1 1049.1L1197.9 1048.8L1199.8 1048.5L1201.6 1048.2L1203.4 1047.9L1205.3 1047.7L1207.2 1047.4L1209.0 1047.1L1210.9 1046.8L1212.8 1046.6L1214.6 1046.3L1216.5 1046.0L1218.3 1045.8L1220.2 1045.5L1222.0 1045.3L1223.8 1045.1L1225.6 1044.8L1227.4 1044.6L1229.2 1044.4L1231.0 1044.2L1232.8 1044.0L1234.6 1043.8L1236.4 1043.6L1238.2 1043.4L1240.0 1043.2L1241.7 1043.0L1243.5 1042.9L1245.3 1042.7L1247.1 1042.5L1248.9 1042.4L1250.7 1042.2L1252.5 1042.0L1254.4 1041.9L1256.2 1041.7L1258.0 1041.6L1259.9 1041.4L1261.8 1041.3L1263.7 1041.1L1265.6 1041.0L1267.8 1040.8L1270.1 1040.7L1272.4 1040.5L1274.8 1040.3L1277.2 1040.2L1279.6 1040.0L1282.0 1039.9L1284.4 1039.7L1286.9 1039.5L1289.4 1039.4L1291.9 1039.2L1294.4 1039.1L1297.0 1038.9L1299.5 1038.8L1302.1 1038.6L1304.7 1038.5L1307.4 1038.3L1310.0 1038.2L1312.6 1038.0L1315.3 1037.9L1318.0 1037.7L1320.7 1037.6L1323.4 1037.4L1326.2 1037.3L1328.9 1037.2L1332.1 1037.0L1335.5 1036.8L1338.9 1036.7L1342.4 1036.5L1345.8 1036.3L1349.4 1036.1L1352.9 1036.0L1356.5 1035.8L1360.1 1035.6L1363.7 1035.5L1367.4 1035.3L1371.1 1035.1L1374.9 1035.0L1378.7 1034.8L1382.6 1034.6L1386.5 1034.4L1390.4 1034.3L1394.4 1034.1L1398.5 1033.9L1402.6 1033.8L1406.8 1033.6L1411.0 1033.4L1415.3 1033.2L1419.6 1033.1L1424.0 1032.9L1428.9 1032.7L1434.3 1032.5L1439.7 1032.3L1445.3 1032.1L1450.9 1031.9L1456.5 1031.7L1462.2 1031.5L1467.9 1031.2L1473.6 1031.0L1479.3 1030.8L1485.0 1030.6L1490.7 1030.4L1496.4 1030.2L1502.0 1030.0L1507.6 1029.8L1513.2 1029.6L1518.6 1029.5L1524.0 1029.3L1529.3 1029.1L1534.5 1028.9L1539.5 1028.7L1544.5 1028.6L1549.3 1028.4L1554.0 1028.3L1558.5 1028.1L1562.5 1028.0L1564.7 1027.9L1566.9 1027.8L1569.1 1027.8L1571.2 1027.7L1573.2 1027.6L1575.2 1027.6L1577.1 1027.5L1579.0 1027.4L1580.8 1027.4L1582.5 1027.3L1584.2 1027.3L1585.8 1027.2L1587.3 1027.2L1588.8 1027.1L1590.2 1027.1L1591.5 1027.1L1592.8 1027.0L1594.0 1027.0L1595.1 1026.9L1596.1 1026.9L1597.1 1026.9L1597.9 1026.9L1598.7 1026.8L1599.4 1026.8L1600.0 1026.8"/>
<path stroke="#00f" d="M266.0 1008.3L269.0 1008.2L272.1 1008.2L275.1 1008.1L278.2 1008.0L281.2 1008.0L284.3 1007.9L287.3 1007.8L290.3 1007.8L293.4 1007.7L296.4 1007.6L299.5 1007.5L302.5 1007.5L305.6 1007.4L308.6 1007.3L311.6 1007.3L314.7 1007.2L317.7 1007.1L320.8 1007.1L323.8 1007.0L326.8 1006.9L329.9 1006.8L332.9 1006.8L336.0 1006.7L339.0 1006.6L342.1 1006.6L345.1 1006.5L348.1 1006.4L351.2 1006.4L354.2 1006.3L357.3 1006.2L360.3 1006.1L363.4 1006.1L366.4 1006.0L369.4 1005.9L372.5 1005.9L375.5 1005.8L378.6 1005.7L381.6 1005.6L384.7 1005.6L387.7 1005.5L390.7 1005.4L393.8 1005.3L396.8 1005.3L399.9 1005.2L402.9 1005.1L406.0 1005.1L409.0 1005.0L412.0 1004.9L415.1 1004.8L418.1 1004.8L421.2 1004.7L424.2 1004.6L427.3 1004.6L430.3 1004.5L433.3 1004.4L436.4 1004.4L439.4 1004.3L442.5 1004.2L445.5 1004.2L448.5 1004.1L451.6 1004.0L454.6 1004.0L457.7 1003.9L460.7 1003.8L463.8 1003.8L466.8 1003.7L469.8 1003.6L472.9 1003.5L475.9 1003.5L479.0 1003.4L482.0 1003.3L485.1 1003.2L488.1 1003.1L491.1 1003.1L494.2 1003.0L497.2 1002.9L500.3 1002.8L503.3 1002.7L506.4 1002.6L509.4 1002.5L512.4 1002.4L515.5 1002.4L518.5 1002.2L521.6 1002.1L524.6 1002.0L524.8 1001.5L525.1 990.8L525.3 980.3L525.5 969.9L525.7 959.7L525.9 949.7L526.1 939.9L526.2 930.2L526.4 920.6L526.5 911.3L526.6 902.0L526.8 893.0L526.9 884.0L527.0 875.2L527.0 866.6L527.1 858.0L527.2 849.6L527.3 841.3L527.3 833.1L527.4 825.1L527.4 817.1L527.5 809.3L527.5 801.5L527.5 793.9L527.6 786.4L527.6 779.2L527.6 773.5L527.7 767.9L527.7 762.3L527.7 756.8L527.7 751.4L527.8 745.9L527.8 740.5L527.8 735.2L527.9 729.9L527.9 724.6L527.9 719.4L528.0 714.2L528.0 709.0L528.1 703.8L528.1 698.7L528.2 693.6L528.2 688.5L528.3 683.5L528.4 678.4L528.5 673.4L528.5 668.4L528.6 663.4L528.7 658.5L528.8 653.5L528.9 648.7L529.0 644.2L529.1 639.8L529.3 635.4L529.4 631.0L529.5 626.6L529.6 622.2L529.8 617.8L529.9 613.4L530.0 609.1L530.2 604.8L530.3 600.5L530.5 596.2L530.7 591.9L530.8 587.7L531.0 583.5L531.2 579.3L531.4 575.2L531.5 571.0L531.7 567.0L531.9 562.9L532.1 558.9L532.3 554.9L532.5 551.0L532.7 547.1L532.9 543.5L533.0 540.4L533.2 537.2L533.4 534.1L533.6 531.1L533.7 528.0L533.9 525.0L534.1 522.0L534.3 519.0L534.4 516.1L534.6 513.2L534.8 510.3L535.0 507.4L535.1 504.6L535.3 501.8L535.5 499.0L535.7 496.2L535.8 493.5L536.0 490.8L536.2 488.1L536.3 485.4L536.5 482.8L536.7 480.1L536.8 477.5L537.0 474.9L537.1 472.6L537.2 470.5L537.4 468.4L537.5 466.4L537.6 464.3L537.7 462.2L537.8 460.2L537.9 458.2L538.1 456.2L538.2 454.2L538.3 452.2L538.4 450.2L538.5 448.3L538.6 446.3L538.7 444.4L538.8 442.5L538.9 440.5L539.1 438.6L539.2 436.7L539.3 434.9L539.4 433.0L539.5 431.1L539.6 429.3L539.7 427.4L539.8 425.6L539.9 423.9L540.0 422.3L540.1 420.7L540.2 419.2L540.3 417.6L540.4 416.0L540.5 414.5L540.6 412.9L540.7 411.3L540.8 409.8L540.9 408.2L541.1 406.7L541.2 405.2L541.3 403.7L541.4 402.1L541.5 400.6L541.6 399.1L541.7 397.6L541.8 396.1L542.0 394.6L542.1 393.1L542.2 391.6L542.3 390.1L542.5 388.6L542.6 387.1L542.7 385.6L542.9 384.2L543.0 382.7L543.2 381.2L543.3 379.7L543.4 378.3L543.6 376.8L543.7 375.3L543.9 373.8L544.1 372.4L544.2 370.9L544.4 369.4L544.6 368.0L544.7 366.5L544.9 365.1L545.1 363.6L545.3 362.1L545.4 360.7L545.6 359.2L545.8 357.8L546.0 356.3L546.2 354.8L546.4 353.4L546.6 351.9L546.8 350.5L547.0 349.1L547.2 347.6L547.5 346.2L547.7 344.8L547.9 343.4L548.1 342.0L548.4 340.6L548.6 339.2L548.8 337.8L549.1 336.4L549.3 335.0L549.5 333.6L549.8 332.2L550.0 330.8L550.3 329.4L550.5 328.0L550.8 326.6L551.1 325.2L551.3 323.8L551.6 322.4L551.9 321.0L552.1 319.6L552.4 318.3L552.7 316.9L552.9 315.5L553.2 314.2L553.5 312.8L553.8 311.5L554.0 310.1L554.3 308.8L554.6 307.5L554.9 306.1L555.2 304.8L555.5 303.5L555.7 302.2L556.0 300.9L556.3 299.6L556.6 298.3L556.9 297.0L557.2 295.7L557.5 294.4L557.8 293.1L558.1 291.9L558.4 290.6L558.7 289.3L559.0 288.1L559.3 286.9L559.6 285.6L559.9 284.4L560.2 283.2L560.4 282.2L560.7 281.2L560.9 280.2L561.2 279.2L561.4 278.2L561.7 277.2L561.9 276.2L562.2 275.2L562.4 274.2L562.7 273.3L562.9 272.3L563.2 271.3L563.5 270.4L563.7 269.4L564.0 268.5L564.2 267.5L564.5 266.6L564.8 265.7L565.0 264.7L565.3 263.8L565.6 262.9L565.9 262.0L566.1 261.0L566.4 260.1L566.7 259.2L567.0 258.3L567.3 257.4L567.5 256.5L567.8 255.6L568.1 254.7L568.4 253.8L568.7 252.9L569.0 252.0L569.3 251.2L569.6 250.3L570.0 249.4L570.3 248.5L570.6 247.7L570.9 246.8L571.2 246.0L571.6 245.1L571.9 244.3L572.2 243.4L572.6 242.6L572.9 241.7L573.2 240.9L573.6 240.1L573.9 239.3L574.3 238.4L574.6 237.7L574.9 237.0L575.3 236.2L575.6 235.5L575.9 234.8L576.3 234.1L576.6 233.4L576.9 232.7L577.3 232.0L577.6 231.3L578.0 230.6L578.3 229.9L578.7 229.2L579.0 228.6L579.4 227.9L579.8 227.2L580.1 226.5L580.5 225.9L580.9 225.2L581.2 224.6L581.6 223.9L582.0 223.3L582.4 222.6L582.7 222.0L583.1 221.4L583.5 220.8L583.8 220.3L584.1 219.7L584.5 219.2L584.8 218.7L585.1 218.2L585.5 217.6L585.8 217.1L586.1 216.6L586.5 216.1L586.8 215.6L587.2 215.1L587.5 214.6L587.9 214.1L588.2 213.7L588.5 213.2L588.9 212.7L589.2 212.2L589.6 211.8L589.9 211.3L590.3 210.8L590.6 210.4L591.0 209.9L591.4 209.5L591.7 209.1L592.1 208.6L592.4 208.2L592.7 207.8L593.1 207.4L593.4 207.0L593.8 206.6L594.1 206.2L594.5 205.8L594.9 205.4L595.2 205.0L595.6 204.6L595.9 204.2L596.3 203.9L596.6 203.5L597.0 203.1L597.3 202.8L597.7 202.4L598.0 202.1L598.4 201.7L598.7 201.4L599.1 201.1L599.4 200.7L599.8 200.4L600.2 200.1L600.5 199.8L600.8 199.5L601.1 199.3L601.4 199.0L601.7 198.8L602.0 198.6L602.3 198.3L602.6 198.1L602.9 197.8L603.2 197.6L603.5 197.4L603.8 197.2L604.2 197.0L604.5 196.7L604.8 196.5L605.1 196.3L605.4 196.1L605.7 195.9L606.0 195.7L606.4 195.5L606.7 195.3L607.0 195.2L607.3 195.0L607.7 194.8L608.0 194.6L608.3 194.4L608.7 194.3L609.0 194.1L609.4 193.9L609.7 193.8L610.1 193.6L610.4 193.5L610.8 193.3L611.1 193.2L611.5 193.0L611.9 192.9L612.2 192.7L612.6 192.6L613.0 192.5L613.4 192.3L613.8 192.2L614.2 192.1L614.6 191.9L615.0 191.8L615.4 191.7L615.8 191.6L616.2 191.5L616.6 191.3L617.1 191.2L617.5 191.1L618.0 191.0L618.6 190.9L619.2 190.7L619.9 190.6L620.5 190.5L621.1 190.3L621.8 190.2L622.4 190.1L623.1 190.0L623.7 189.9L624.4 189.8L625.0 189.7L625.7 189.6L626.4 189.5L627.0 189.4L627.7 189.3L628.4 189.2L629.0 189.2L629.7 189.1L630.4 189.0L631.0 189.0L631.7 188.9L632.3 188.9L632.9 188.8L633.6 188.8L634.1 188.7L634.6 188.7L635.1 188.7L635.6 188.7L636.1 188.6L636.6 188.6L637.1 188.6L637.5 188.6L638.0 188.6L638.5 188.6L639.0 188.6L639.5 188.6L639.9 188.6L640.4 188.6L640.9 188.6L641.4 188.6L641.9 188.6L642.3 188.6L642.8 188.6L643.3 188.6L643.8 188.6L644.4 188.7L644.9 188.7L645.4 188.7L645.9 188.7L646.6 188.8L647.4 188.8L648.2 188.8L649.0 188.9L649.8 188.9L650.6 189.0L651.5 189.0L652.3 189.1L653.2 189.2L654.1 189.2L655.0 189.3L655.9 189.4L656.8 189.5L657.7 189.5L658.6 189.6L659.5 189.7L660.5 189.8L661.4 189.9L662.4 190.0L663.3 190.1L664.2 190.2L665.2 190.4L666.2 190.5L667.1 190.6L668.1 190.7L669.0 190.9L670.0 191.0L670.9 191.2L671.9 191.3L672.8 191.5L673.8 191.6L674.7 191.8L675.7 191.9L676.6 192.1L677.6 192.3L678.5 192.5L679.4 192.6L680.3 192.8L681.2 193.0L682.1 193.2L683.0 193.4L683.9 193.6L684.8 193.8L685.7 193.9L686.6 194.1L687.4 194.3L688.3 194.5L689.1 194.7L689.9 194.9L690.7 195.1L691.5 195.3L692.2 195.5L693.0 195.7L693.7 195.9L694.4 196.1L695.1 196.3L695.8 196.5L696.6 196.6L697.3 196.8L698.0 197.0L698.7 197.3L699.5 197.5L700.2 197.7L700.9 197.9L701.7 198.1L702.5 198.3L703.3 198.6L704.1 198.8L704.9 199.0L705.7 199.3L706.6 199.5L707.5 199.8L708.4 200.0L709.3 200.3L710.3 200.6L712.0 201.1L713.8 201.6L715.7 202.1L717.6 202.7L719.6 203.3L721.7 203.8L723.8 204.4L726.0 205.0L728.3 205.7L730.6 206.3L732.9 206.9L735.3 207.6L737.7 208.2L740.1 208.9L742.6 209.6L745.1 210.2L747.7 210.9L750.2 211.6L752.8 212.3L755.4 212.9L758.0 213.6L760.6 214.3L763.2 214.9L765.8 215.6L768.5 216.3L771.3 217.0L774.1 217.6L776.9 218.3L779.7 219.0L782.5 219.6L785.3 220.3L788.1 220.9L790.8 221.6L793.6 222.2L796.3 222.9L799.1 223.5L801.8 224.1L804.6 224.7L807.3 225.3L810.0 225.9L812.7 226.5L815.4 227.2L818.1 227.8L820.8 228.4L823.4 229.0L826.1 229.6L828.8 230.2L831.4 230.8L834.1 231.4L836.7 232.0L839.3 232.6L841.9 233.2L844.5 233.8L847.1 234.4L849.7 235.0L852.3 235.6L855.0 236.2L857.6 236.8L860.2 237.4L862.9 238.0L865.5 238.6L868.2 239.2L870.9 239.8L873.6 240.4L876.3 241.1L879.1 241.7L881.9 242.3L884.7 242.9L887.6 243.5L890.4 244.1L893.4 244.7L896.3 245.3L899.3 245.9L902.3 246.5L905.8 247.2L909.5 247.9L913.3 248.6L917.1 249.3L921.0 250.0L924.9 250.7L928.8 251.4L932.8 252.1L936.8 252.8L940.8 253.5L944.8 254.1L948.8 254.8L952.8 255.5L956.8 256.1L960.8 256.7L964.7 257.4L968.7 258.0L972.6 258.6L976.5 259.2L980.3 259.8L984.1 260.3L987.8 260.9L991.5 261.4L995.0 262.0L998.6 262.5L1001.1 262.9L1003.3 263.2L1005.5 263.5L1007.6 263.8L1009.7 264.1L1011.7 264.3L1013.7 264.6L1015.6 264.9L1017.5 265.2L1019.4 265.4L1021.2 265.7L1022.9 265.9L1024.6 266.1L1026.3 266.3L1027.8 266.5L1029.4 266.8L1030.9 266.9L1032.3 267.1L1033.6 267.3L1034.9 267.5L1036.2 267.6L1037.3 267.8L1038.4 267.9L1039.5 268.0L1040.4 268.1L1040.9 268.2L1041.3 268.2L1041.6 268.3L1041.9 268.3L1042.3 268.4L1042.6 268.4L1042.9 268.4L1043.2 268.5L1043.5 268.5L1043.8 268.5L1044.0 268.5L1044.3 268.5L1044.6 268.6L1044.8 268.6L1045.0 268.6L1045.3 268.6L1045.5 268.6L1045.7 268.6L1045.9 268.6L1046.1 268.6L1046.3 268.6L1046.5 268.6L1046.7 268.6L1046.8 268.6L1047.0 268.6L1047.0 268.6L1047.1 269.8L1047.3 271.1L1047.4 272.4L1047.5 273.7L1047.6 275.0L1047.7 276.3L1047.8 277.6L1048.0 279.0L1048.1 280.4L1048.1 281.8L1048.2 283.2L1048.3 284.7L1048.4 286.1L1048.5 287.6L1048.6 289.1L1048.7 290.6L1048.7 292.2L1048.8 293.7L1048.9 295.3L1048.9 296.9L1049.0 298.5L1049.0 300.2L1049.1 301.8L1049.2 303.5L1049.2 305.3L1049.3 307.8L1049.3 310.3L1049.4 312.9L1049.5 315.5L1049.5 318.2L1049.6 320.9L1049.6 323.6L1049.7 326.4L1049.7 329.2L1049.8 332.1L1049.8 335.1L1049.9 338.0L1049.9 341.1L1049.9 344.1L1050.0 347.2L1050.0 350.4L1050.1 353.6L1050.1 356.9L1050.2 360.2L1050.2 363.6L1050.3 367.0L1050.3 370.4L1050.4 374.0L1050.5 377.5L1050.5 381.4L1050.6 386.0L1050.7 390.7L1050.8 395.4L1050.9 400.2L1051.0 405.0L1051.1 409.8L1051.2 414.7L1051.3 419.6L1051.5 424.6L1051.6 429.5L1051.7 434.4L1051.8 439.3L1051.9 444.2L1052.1 449.1L1052.2 454.0L1052.3 458.7L1052.4 463.5L1052.5 468.2L1052.6 472.8L1052.7 477.4L1052.9 481.8L1053.0 486.2L1053.0 490.5L1053.1 494.6L1053.2 498.2L1053.3 501.1L1053.3 504.0L1053.4 506.8L1053.4 509.5L1053.5 512.2L1053.6 514.9L1053.6 517.5L1053.7 520.1L1053.7 522.6L1053.8 525.1L1053.8 527.6L1053.9 530.1L1053.9 532.5L1054.0 534.9L1054.0 537.3L1054.1 539.7L1054.1 542.1L1054.2 544.5L1054.3 546.9L1054.3 549.3L1054.4 551.8L1054.5 554.2L1054.6 556.6L1054.7 559.1L1054.8 561.6L1054.9 564.2L1055.0 566.7L1055.1 569.3L1055.2 571.9L1055.3 574.6L1055.5 577.2L1055.6 579.9L1055.7 582.5L1055.8 585.2L1056.0 587.9L1056.1 590.5L1056.3 593.2L1056.4 595.9L1056.6 598.5L1056.7 601.2L1056.9 603.8L1057.0 606.4L1057.2 609.0L1057.3 611.6L1057.5 614.2L1057.6 616.7L1057.8 619.2L1057.9 621.7L1058.0 624.2L1058.2 626.3L1058.3 628.3L1058.4 630.2L1058.5 632.1L1058.6 634.0L1058.8 635.9L1058.9 637.8L1059.0 639.6L1059.1 641.4L1059.2 643.2L1059.3 645.0L1059.4 646.7L1059.6 648.5L1059.7 650.2L1059.8 651.9L1059.9 653.6L1060.0 655.3L1060.1 656.9L1060.3 658.5L1060.4 660.1L1060.5 661.7L1060.6 663.3L1060.7 664.9L1060.9 666.4L1061.0 668.0L1061.1 669.3L1061.2 670.6L1061.3 671.9L1061.4 673.2L1061.6 674.4L1061.7 675.7L1061.8 677.0L1061.9 678.2L1062.0 679.5L1062.2 680.7L1062.3 682.0L1062.4 683.2L1062.5 684.5L1062.6 685.7L1062.8 687.0L1062.9 688.2L1063.0 689.5L1063.2 690.8L1063.3 692.1L1063.4 693.4L1063.6 694.6L1063.7 696.0L1063.8 697.3L1064.0 698.6L1064.1 700.0L1064.3 701.5L1064.4 703.2L1064.6 704.8L1064.8 706.4L1064.9 708.1L1065.1 709.7L1065.3 711.4L1065.4 713.1L1065.6 714.9L1065.8 716.6L1066.0 718.3L1066.1 720.1L1066.3 721.8L1066.5 723.6L1066.7 725.4L1066.8 727.2L1067.0 729.0L1067.2 730.8L1067.4 732.6L1067.6 734.4L1067.8 736.2L1068.0 738.1L1068.1 739.9L1068.3 741.7L1068.5 743.5L1068.7 745.4L1068.9 747.2L1069.1 749.0L1069.3 750.9L1069.5 752.7L1069.7 754.5L1069.9 756.4L1070.1 758.2L1070.3 760.0L1070.5 761.8L1070.7 763.6L1071.0 765.4L1071.2 767.2L1071.4 768.9L1071.6 770.7L1071.8 772.4L1072.0 774.2L1072.2 775.9L1072.4 777.6L1072.7 779.3L1072.9 781.0L1073.1 782.7L1073.3 784.3L1073.5 785.9L1073.8 787.5L1074.0 788.9L1074.2 790.2L1074.3 791.6L1074.5 792.9L1074.7 794.3L1074.9 795.6L1075.1 796.9L1075.3 798.2L1075.5 799.5L1075.8 800.8L1076.0 802.0L1076.2 803.3L1076.4 804.5L1076.6 805.7L1076.8 807.0L1077.0 808.2L1077.2 809.4L1077.4 810.5L1077.6 811.7L1077.8 812.9L1078.1 814.1L1078.3 815.2L1078.5 816.4L1078.7 817.5L1078.9 818.5L1079.1 819.4L1079.3 820.4L1079.4 821.3L1079.6 822.2L1079.8 823.1L1080.0 823.9L1080.2 824.8L1080.4 825.7L1080.5 826.6L1080.7 827.5L1080.9 828.3L1081.1 829.2L1081.3 830.1L1081.5 830.9L1081.7 831.8L1081.9 832.7L1082.0 833.5L1082.2 834.4L1082.4 835.2L1082.6 836.1L1082.8 836.9L1083.0 837.8L1083.2 838.6L1083.4 839.5L1083.6 840.3L1083.8 841.0L1084.0 841.8L1084.1 842.6L1084.3 843.4L1084.5 844.1L1084.7 844.9L1084.9 845.7L1085.1 846.4L1085.3 847.2L1085.5 848.0L1085.7 848.8L1085.9 849.5L1086.1 850.3L1086.3 851.1L1086.5 851.8L1086.7 852.6L1086.9 853.4L1087.1 854.2L1087.3 854.9L1087.5 855.7L1087.7 856.5L1087.9 857.3L1088.1 858.1L1088.3 858.8L1088.6 859.8L1088.9 860.8L1089.2 861.8L1089.5 862.8L1089.7 863.8L1090.0 864.8L1090.3 865.8L1090.6 866.8L1090.9 867.8L1091.2 868.8L1091.6 869.8L1091.9 870.8L1092.2 871.9L1092.5 872.9L1092.9 874.0L1093.2 875.0L1093.5 876.1L1093.9 877.1L1094.2 878.2L1094.6 879.3L1095.0 880.4L1095.3 881.5L1095.7 882.6L1096.1 883.7L1096.5 884.8L1096.9 885.9L1097.3 887.1L1097.7 888.2L1098.1 889.4L1098.5 890.5L1098.9 891.7L1099.4 892.9L1099.8 894.0L1100.2 895.2L1100.7 896.4L1101.1 897.6L1101.5 898.7L1102.0 899.9L1102.4 901.1L1102.9 902.2L1103.3 903.4L1103.8 904.5L1104.2 905.7L1104.7 906.8L1105.1 907.9L1105.5 909.0L1106.0 910.1L1106.4 911.2L1106.9 912.2L1107.3 913.3L1107.7 914.2L1108.0 915.0L1108.4 915.9L1108.7 916.7L1109.1 917.5L1109.4 918.4L1109.8 919.2L1110.2 920.0L1110.5 920.8L1110.9 921.5L1111.2 922.3L1111.6 923.1L1112.0 923.9L1112.3 924.6L1112.7 925.4L1113.0 926.1L1113.4 926.8L1113.8 927.6L1114.2 928.3L1114.5 929.0L1114.9 929.7L1115.3 930.4L1115.7 931.1L1116.1 931.8L1116.5 932.6L1116.9 933.3L1117.3 934.0L1117.8 934.7L1118.2 935.4L1118.6 936.1L1119.1 936.8L1119.5 937.5L1120.0 938.1L1120.5 938.8L1121.0 939.5L1121.4 940.2L1121.9 940.9L1122.4 941.6L1123.0 942.3L1123.5 943.0L1124.0 943.7L1124.6 944.4L1125.1 945.1L1125.7 945.8L1126.3 946.5L1126.8 947.2L1127.4 947.9L1128.1 948.6L1128.7 949.4L1129.4 950.1L1130.2 951.0L1131.0 951.9L1131.8 952.8L1132.6 953.7L1133.5 954.6L1134.4 955.5L1135.3 956.4L1136.2 957.3L1137.1 958.2L1138.0 959.1L1139.0 960.0L1139.9 960.8L1140.9 961.7L1141.8 962.6L1142.8 963.4L1143.8 964.3L1144.8 965.1L1145.8 965.9L1146.8 966.7L1147.8 967.5L1148.8 968.3L1149.8 969.0L1150.9 969.8L1151.9 970.5L1152.9 971.1L1153.8 971.7L1154.7 972.3L1155.6 972.9L1156.5 973.4L1157.4 974.0L1158.3 974.5L1159.3 975.0L1160.2 975.5L1161.1 976.0L1162.0 976.5L1162.9 976.9L1163.8 977.4L1164.8 977.8L1165.7 978.2L1166.6 978.6L1167.5 979.0L1168.5 979.4L1169.4 979.8L1170.3 980.2L1171.2 980.5L1172.2 980.9L1173.1 981.3L1174.0 981.6L1175.0 981.9L1175.9 982.3L1176.8 982.6L1177.7 982.9L1178.6 983.2L1179.5 983.5L1180.4 983.8L1181.3 984.1L1182.2 984.4L1183.1 984.6L1184.0 984.9L1184.9 985.2L1185.8 985.5L1186.7 985.7L1187.6 986.0L1188.5 986.2L1189.5 986.5L1190.4 986.7L1191.3 986.9L1192.2 987.2L1193.1 987.4L1194.0 987.6L1194.9 987.9L1195.9 988.1L1196.8 988.3L1197.7 988.5L1198.6 988.7L1199.5 988.9L1200.4 989.1L1201.3 989.3L1202.2 989.5L1203.1 989.6L1204.0 989.8L1204.9 990.0L1205.8 990.2L1206.7 990.3L1207.7 990.5L1208.6 990.6L1209.5 990.8L1210.4 991.0L1211.3 991.1L1212.2 991.3L1213.1 991.4L1214.0 991.5L1214.9 991.7L1215.8 991.8L1216.7 991.9L1217.6 992.1L1218.6 992.2L1219.5 992.3L1220.4 992.4L1221.3 992.5L1222.2 992.7L1223.1 992.8L1224.0 992.9L1224.9 993.0L1225.8 993.1L1226.7 993.2L1227.6 993.3L1228.5 993.4L1229.4 993.5L1230.3 993.6L1231.2 993.7L1232.1 993.7L1233.0 993.8L1233.9 993.9L1234.8 994.0L1235.7 994.1L1236.6 994.1L1237.5 994.2L1238.4 994.3L1239.3 994.4L1240.2 994.4L1241.1 994.5L1242.0 994.6L1242.9 994.6L1243.8 994.7L1244.7 994.8L1245.6 994.8L1246.5 994.9L1247.4 994.9L1248.3 995.0L1249.2 995.0L1250.1 995.1L1251.0 995.1L1251.9 995.2L1252.9 995.2L1253.8 995.3L1254.7 995.3L1255.6 995.4L1256.6 995.4L1257.5 995.5L1258.5 995.5L1259.4 995.6L1260.4 995.6L1261.4 995.6L1262.4 995.7L1263.4 995.7L1264.4 995.8L1265.4 995.8L1266.5 995.8L1267.7 995.9L1269.0 995.9L1270.3 996.0L1271.7 996.0L1273.0 996.1L1274.3 996.1L1275.7 996.2L1277.0 996.2L1278.4 996.2L1279.8 996.3L1281.1 996.3L1282.5 996.4L1283.9 996.4L1285.2 996.4L1286.6 996.5L1288.0 996.5L1289.3 996.6L1290.7 996.6L1292.0 996.6L1293.4 996.7L1294.7 996.7L1296.0 996.7L1297.3 996.8L1298.6 996.8L1299.8 996.8L1301.0 996.9L1302.1 996.9L1303.3 996.9L1304.5 997.0L1305.6 997.0L1306.7 997.0L1307.9 997.1L1309.0 997.1L1310.2 997.1L1311.3 997.1L1312.5 997.2L1313.6 997.2L1314.8 997.2L1316.0 997.3L1317.2 997.3L1318.5 997.3L1319.7 997.3L1321.0 997.3L1322.3 997.4L1323.6 997.4L1325.0 997.4L1326.4 997.4L1327.8 997.4L1329.3 997.4L1331.5 997.5L1334.3 997.5L1337.2 997.5L1340.2 997.5L1343.4 997.5L1346.7 997.5L1350.1 997.5L1353.6 997.5L1357.1 997.5L1360.8 997.5L1364.6 997.4L1368.4 997.4L1372.4 997.4L1376.4 997.4L1380.5 997.4L1384.7 997.3L1388.9 997.3L1393.2 997.3L1397.6 997.3L1402.0 997.2L1406.5 997.2L1411.0 997.2L1415.6 997.1L1420.2 997.1L1424.8 997.1L1430.1 997.0L1435.8 997.0L1441.4 996.9L1447.1 996.9L1452.8 996.9L1458.5 996.8L1464.2 996.8L1469.9 996.8L1475.6 996.7L1481.3 996.7L1487.0 996.7L1492.7 996.7L1498.3 996.7L1503.9 996.7L1509.5 996.7L1515.0 996.7L1520.4 996.7L1525.8 996.7L1531.1 996.7L1536.3 996.7L1541.5 996.8L1546.5 996.8L1551.5 996.8L1556.4 996.9L1561.1 997.0L1563.9 997.0L1566.3 997.0L1568.7 997.1L1571.0 997.1L1573.3 997.2L1575.6 997.2L1577.7 997.2L1579.8 997.3L1581.8 997.3L1583.8 997.3L1585.6 997.4L1587.4 997.4L1589.1 997.4L1590.6 997.4L1592.1 997.4L1593.5 997.4L1594.7 997.4L1595.9 997.4L1596.9 997.4L1597.7 997.3L1598.5 997.3L1599.1 997.2L1599.5 997.2L1599.8 997.1L1600.0 997.0"/>
</g>
<g font-family="'Liberation Serif', serif" font-weight="bold" font-size="55.5" fill="#000">
<text x="231.8" y="1017.7" text-anchor="end" font-size="55">0.0</text>
<text x="231.8" y="701.4" text-anchor="end" font-size="55">0.1</text>
<text x="231.8" y="385.0" text-anchor="end" font-size="55">0.2</text>
<text x="231.8" y="68.7" text-anchor="end" font-size="55">0.3</text>
<text x="266.5" y="1162.4" text-anchor="middle">-50</text>
<text x="525.3" y="1162.4" text-anchor="middle">0</text>
<text x="784.1" y="1162.4" text-anchor="middle">50</text>
<text x="1042.9" y="1162.4" text-anchor="middle">100</text>
<text x="1301.7" y="1162.4" text-anchor="middle">150</text>
<text x="1560.5" y="1162.4" text-anchor="middle">200</text>
</g>
<text x="809" y="1249.2" font-family="'Liberation Serif', serif" font-weight="bold" font-size="59">Time, s</text>
<text transform="translate(73,712.5) rotate(-90)" font-family="'Liberation Serif', serif" font-weight="bold" font-size="59">j, μA/cm<tspan font-size="40" dx="2" dy="-24.1">2</tspan></text>
<line x1="1154" y1="513.8" x2="1259.5" y2="513.8" stroke="#000" stroke-width="8.5" stroke-linecap="round"/>
<line x1="1154" y1="581.6" x2="1259.5" y2="581.6" stroke="#f00" stroke-width="8.5" stroke-linecap="round"/>
<line x1="1154" y1="649.4" x2="1259.5" y2="649.4" stroke="#00f" stroke-width="8.5" stroke-linecap="round"/>
<g font-family="'Liberation Serif', serif" font-weight="bold" font-size="46.6" fill="#000">
<text><tspan x="1271" y="530.2">WO</tspan><tspan x="1353.4" y="541.8" font-size="31" stroke="#000" stroke-width="0.5">3</tspan><tspan x="1370.7" y="530.2"> irradiation</tspan></text>
<text><tspan x="1271.5" y="598.0">Cu</tspan><tspan x="1330.6" y="609.6" font-size="31" stroke="#000" stroke-width="0.5">2</tspan><tspan x="1347.4" y="598.0">O irradiation</tspan></text>
<text><tspan x="1271" y="665.8">WO</tspan><tspan x="1353.4" y="677.4" font-size="31" stroke="#000" stroke-width="0.5">3</tspan><tspan x="1368.9" y="665.8">-</tspan><tspan x="1386.2" y="665.8">Cu</tspan><tspan x="1444.5" y="677.4" font-size="31" stroke="#000" stroke-width="0.5">2</tspan><tspan x="1460.8" y="665.8">O irradiation</tspan></text>
</g>
<g font-family="'Liberation Sans', sans-serif" font-weight="bold" font-style="italic" font-size="61" fill="#000">
<text x="841.5" y="807.5">1</text><text x="845" y="998">2</text><text x="823" y="198.5">3</text>
</g>
<g font-family="'Liberation Sans', sans-serif" font-size="70" fill="#000">
<text x="470" y="132.2">+h</text>
<text x="1006.5" y="138">-h</text>
</g>
<g font-family="'Liberation Serif', serif" font-size="74" fill="#000">
<text transform="translate(550,132.6) scale(1.08,0.98)">ν</text>
<text transform="translate(1069.3,138.4) scale(1.08,0.98)">ν</text>
</g>
<g stroke="#000" stroke-width="2" fill="#000">
<line x1="523" y1="146" x2="523" y2="230"/><path d="M515.3 224.5L530.7 224.5L523 253Z" stroke="none"/>
<line x1="1046" y1="152" x2="1046" y2="235"/><path d="M1038.8 229.5L1053.2 229.5L1046 259Z" stroke="none"/>
</g>
</svg>
</body></html>
